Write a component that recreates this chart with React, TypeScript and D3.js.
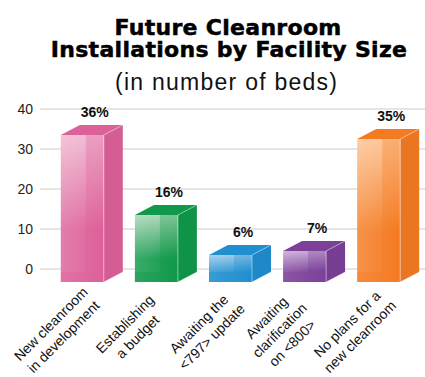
import React from 'react';
import * as d3 from 'd3';

const categories = [
  'New cleanroom in development',
  'Establishing a budget',
  'Awaiting the <797> update',
  'Awaiting clarification on <800>',
  'No plans for a new cleanroom',
];
const categoryLines = [
  ['New cleanroom', 'in development'],
  ['Establishing', 'a budget'],
  ['Awaiting the', '<797> update'],
  ['Awaiting', 'clarification', 'on <800>'],
  ['No plans for a', 'new cleanroom'],
];
const values = [36, 16, 6, 7, 35];
const valueLabels = ['36%', '16%', '6%', '7%', '35%'];
const baseColors = ['#dd6199', '#10994a', '#1f8fcf', '#7c4098', '#f47b22'];
const lightColors = ['#f0b8d0', '#a9d6b6', '#95c8ea', '#c4a6d3', '#fcc496'];
const yTicks = [0, 10, 20, 30, 40];
const titleLines = ['Future Cleanroom', 'Installations by Facility Size'];
const subtitle = '(in number of beds)';

const W = 425;
const H = 377;

export default function App() {
  const x = d3
    .scaleBand<string>()
    .domain(categories)
    .range([46, 415])
    .paddingInner(0.42)
    .paddingOuter(0.2);
  const y = d3.scaleLinear().domain([0, 40]).range([269, 109]);
  const w = x.bandwidth();
  const dx = 19;
  const dy = 10;
  const backBottom = y(0) + 3;
  const frontBottom = y(0) + 13;
  const lh = 18;

  return (
    <svg
      width={W}
      height={H}
      style={{ position: 'absolute', left: 0, top: 0, background: '#fff' }}
    >
      <defs>
        {baseColors.map((c, i) => (
          <linearGradient key={i} id={`fg${i}`} x1="0" y1="0" x2="0" y2="1">
            <stop offset="0" stopColor={lightColors[i]} />
            <stop offset="0.65" stopColor={c} />
            <stop offset="1" stopColor={c} />
          </linearGradient>
        ))}
        <linearGradient id="hl" x1="0" y1="0" x2="1" y2="0">
          <stop offset="0" stopColor="#fff" stopOpacity={0.18} />
          <stop offset="1" stopColor="#fff" stopOpacity={0} />
        </linearGradient>
      </defs>

      {/* title */}
      <text
        fontFamily="'DejaVu Sans', sans-serif"
        fontWeight="bold"
        fontSize={22}
        fill="#000"
        stroke="#000"
        strokeWidth={0.5}
        textAnchor="middle"
        letterSpacing={0.3}
      >
        <tspan x={228} y={35}>
          {titleLines[0]}
        </tspan>
        <tspan x={229} y={56.5}>
          {titleLines[1]}
        </tspan>
      </text>
      <text
        x={226}
        y={90}
        textAnchor="middle"
        fontFamily="'Liberation Sans', Arial, sans-serif"
        fontSize={23}
        fill="#111"
        textLength={222}
        lengthAdjust="spacing"
      >
        {subtitle}
      </text>

      {/* grid + y axis */}
      <g>
        {yTicks.map((t) => (
          <g key={t}>
            <line x1={40} x2={W} y1={y(t)} y2={y(t)} stroke="#dcdcdc" strokeWidth={1.5} />
            <text
              x={33}
              y={y(t)}
              dy="0.36em"
              textAnchor="end"
              fontFamily="'Liberation Sans', Arial, sans-serif"
              fontSize={14}
              fill="#231f20"
            >
              {t}
            </text>
          </g>
        ))}
      </g>

      {/* bars */}
      {categories.map((cat, i) => {
        const xf = x(cat) as number;
        const yb = y(values[i]);
        const yt = yb + dy;
        const c = baseColors[i];
        const side = d3.color(c)!.darker(0.12).formatHex();
        const topPts = [
          [xf, yt],
          [xf + dx, yb],
          [xf + w + dx, yb],
          [xf + w, yt],
        ];
        const sidePts = [
          [xf + w, yt],
          [xf + w + dx, yb],
          [xf + w + dx, backBottom],
          [xf + w, frontBottom],
        ];
        return (
          <g key={cat}>
            <polygon points={sidePts.map((p) => p.join(',')).join(' ')} fill={side} />
            <polygon points={topPts.map((p) => p.join(',')).join(' ')} fill={c} />
            <rect x={xf} y={yt} width={w} height={frontBottom - yt} fill={`url(#fg${i})`} />
            <rect x={xf} y={yt} width={w} height={frontBottom - yt} fill="url(#hl)" />
            <rect
              x={xf + w - dx + 1}
              y={yt}
              width={dx - 1}
              height={Math.max(0, backBottom - yt)}
              fill={c}
              opacity={0.3}
            />
            <rect x={xf} y={backBottom} width={w} height={frontBottom - backBottom} fill={c} opacity={0.35} />
            <line x1={xf + w} x2={xf + w} y1={yt} y2={frontBottom} stroke="#fff" strokeOpacity={0.45} />
            <line x1={xf + w} x2={xf + w + dx} y1={yt} y2={yb} stroke="#fff" strokeOpacity={0.35} />
            <line x1={xf + w} x2={xf + w + dx} y1={frontBottom} y2={backBottom} stroke="#fff" strokeOpacity={0.35} />
            <text
              x={xf + (w + dx) / 2 + 3}
              y={yb - 8}
              textAnchor="middle"
              fontFamily="'Liberation Sans', Arial, sans-serif"
              fontWeight="bold"
              fontSize={14}
              fill="#111"
            >
              {valueLabels[i]}
            </text>
          </g>
        );
      })}

      {/* x labels */}
      {categories.map((cat, i) => {
        const xf = x(cat) as number;
        const lines = categoryLines[i];
        const n = lines.length;
        return (
          <g key={cat} transform={`translate(${xf - 3},${331}) rotate(-45)`}>
            {lines.map((ln, j) => (
              <text
                key={j}
                x={0}
                y={(j - (n - 1) / 2) * lh + 4}
                textAnchor="middle"
                fontFamily="'Liberation Sans', Arial, sans-serif"
                fontSize={14}
                fill="#111"
              >
                {ln}
              </text>
            ))}
          </g>
        );
      })}
    </svg>
  );
}
